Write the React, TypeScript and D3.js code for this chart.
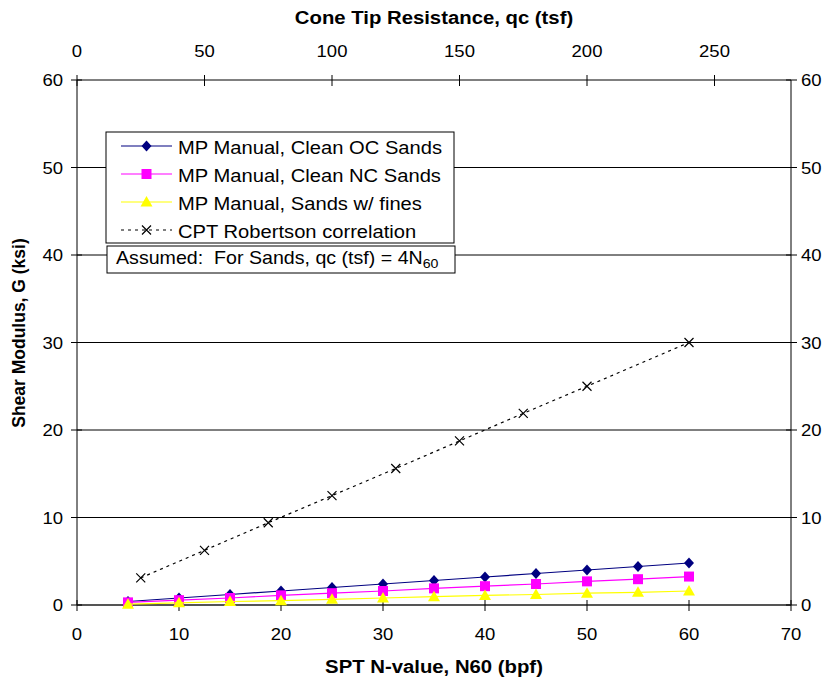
import React from "react";
import * as d3 from "d3";

const nValues = [5, 10, 15, 20, 25, 30, 35, 40, 45, 50, 55, 60];
const ocSands = [0.4, 0.8, 1.2, 1.6, 2.0, 2.4, 2.8, 3.2, 3.6, 4.0, 4.4, 4.8];
const ncSands = [0.3, 0.55, 0.8, 1.1, 1.35, 1.6, 1.9, 2.15, 2.4, 2.7, 2.95, 3.25];
const fineSands = [0.1, 0.25, 0.4, 0.5, 0.65, 0.8, 0.95, 1.1, 1.2, 1.35, 1.45, 1.6];
const cptN = [6.25, 12.5, 18.75, 25, 31.25, 37.5, 43.75, 50, 60];
const cptG = [3.1, 6.25, 9.4, 12.5, 15.6, 18.75, 21.9, 25, 30];
const xTicks = [0, 10, 20, 30, 40, 50, 60, 70];
const topTicks = [0, 50, 100, 150, 200, 250];
const yTicks = [0, 10, 20, 30, 40, 50, 60];
const legendLabels = [
  "MP Manual, Clean OC Sands",
  "MP Manual, Clean NC Sands",
  "MP Manual, Sands w/ fines",
  "CPT Robertson correlation",
];

const L = 77, R = 791, T = 80, B = 605;
const FONT = "'Liberation Sans', Arial, sans-serif";
const SX = 1.09;

function Txt({ x, y, size, anchor, bold, children, sx = SX }: any) {
  return (
    <text
      transform={`translate(${x},${y}) scale(${sx},1)`}
      fontSize={size}
      textAnchor={anchor || "start"}
      fontWeight={bold ? "bold" : "normal"}
      fill="#000"
    >
      {children}
    </text>
  );
}

function Marker({ type, x, y }: { type: string; x: number; y: number }) {
  if (type === "diamond")
    return <path d={`M${x},${y - 5.5}L${x + 5},${y}L${x},${y + 5.5}L${x - 5},${y}Z`} fill="#000080" />;
  if (type === "square")
    return <rect x={x - 5} y={y - 5} width={10} height={10} fill="#FF00FF" />;
  if (type === "triangle")
    return <path d={`M${x},${y - 6}L${x + 6},${y + 4.5}L${x - 6},${y + 4.5}Z`} fill="#FFFF00" />;
  return (
    <path d={`M${x - 4.5},${y - 4.5}L${x + 4.5},${y + 4.5}M${x - 4.5},${y + 4.5}L${x + 4.5},${y - 4.5}`} stroke="#000" strokeWidth={1.2} />
  );
}

export default function App() {
  const x = d3.scaleLinear().domain([0, 70]).range([L, R]);
  const xTop = d3.scaleLinear().domain([0, 280]).range([L, R]);
  const y = d3.scaleLinear().domain([0, 60]).range([B, T]);
  const line = d3.line<[number, number]>().x((d) => x(d[0])).y((d) => y(d[1]));

  const series = [
    { vals: nValues.map((n, i) => [n, ocSands[i]] as [number, number]), color: "#000080", marker: "diamond", dash: undefined as string | undefined, w: 1.2 },
    { vals: nValues.map((n, i) => [n, ncSands[i]] as [number, number]), color: "#FF00FF", marker: "square", dash: undefined, w: 1.2 },
    { vals: nValues.map((n, i) => [n, fineSands[i]] as [number, number]), color: "#FFFF00", marker: "triangle", dash: undefined, w: 1.2 },
    { vals: cptN.map((n, i) => [n, cptG[i]] as [number, number]), color: "#000", marker: "x", dash: "3,4", w: 1.2 },
  ];

  const legY = [146, 174, 202, 230];

  return (
    <svg width={830} height={681} style={{ position: "absolute", left: 0, top: 0 }} fontFamily={FONT}>
      <rect width={830} height={681} fill="#fff" />
      {yTicks.filter((t) => t > 0 && t < 60).map((t) => (
        <line key={t} x1={L} x2={R} y1={y(t)} y2={y(t)} stroke="#000" strokeWidth={1} />
      ))}
      <line x1={L} x2={R} y1={T} y2={T} stroke="#000" strokeWidth={1} />
      <line x1={L} x2={L} y1={T} y2={B} stroke="#000" strokeWidth={1} />
      <line x1={R} x2={R} y1={T} y2={B} stroke="#000" strokeWidth={1} />
      <line x1={L} x2={R} y1={B} y2={B} stroke="#555" strokeWidth={2} />
      {xTicks.map((t) => (
        <g key={t}>
          <line x1={x(t)} x2={x(t)} y1={B - 5} y2={B + 6} stroke="#000" />
          <Txt x={x(t)} y={640} size={17} anchor="middle">{t}</Txt>
        </g>
      ))}
      {topTicks.map((t) => (
        <g key={t}>
          <line x1={xTop(t)} x2={xTop(t)} y1={T - 5} y2={T + 6} stroke="#000" />
          <Txt x={xTop(t)} y={57} size={17} anchor="middle">{t}</Txt>
        </g>
      ))}
      {yTicks.map((t) => (
        <g key={t}>
          <line x1={L - 6} x2={L + 5} y1={y(t)} y2={y(t)} stroke="#000" />
          <line x1={R - 5} x2={R + 6} y1={y(t)} y2={y(t)} stroke="#000" />
          <Txt x={63} y={y(t) + 6} size={17} anchor="end">{t}</Txt>
          <Txt x={801} y={y(t) + 6} size={17} anchor="start">{t}</Txt>
        </g>
      ))}
      <Txt x={434} y={24} size={19} anchor="middle" bold sx={1.07}>Cone Tip Resistance, qc (tsf)</Txt>
      <Txt x={434} y={673} size={19} anchor="middle" bold sx={1.07}>SPT N-value, N60 (bpf)</Txt>
      <text transform={`translate(25,333) rotate(-90) scale(1,1.08)`} fontSize={17.5} fontWeight="bold" textAnchor="middle">Shear Modulus, G (ksi)</text>
      {series.map((s, i) => (
        <g key={i}>
          <path d={line(s.vals) || ""} fill="none" stroke={s.color} strokeWidth={s.w} strokeDasharray={s.dash} />
          {s.vals.map((v, j) => (
            <Marker key={j} type={s.marker} x={x(v[0])} y={y(v[1])} />
          ))}
        </g>
      ))}
      <rect x={106} y={132} width={348} height={111} fill="#fff" stroke="#000" strokeWidth={1} />
      {series.map((s, i) => (
        <g key={i}>
          <line x1={121} x2={172} y1={legY[i]} y2={legY[i]} stroke={s.color} strokeWidth={s.w} strokeDasharray={s.dash} />
          <Marker type={s.marker} x={146.5} y={legY[i]} />
          <Txt x={178} y={legY[i] + 7.5} size={18.5}>{legendLabels[i]}</Txt>
        </g>
      ))}
      <rect x={107} y={246} width={348} height={27} fill="#fff" stroke="#000" strokeWidth={1} />
      <Txt x={116} y={264} size={18}>
        {"Assumed:\u00A0 For Sands, qc (tsf) = 4N"}<tspan fontSize={13} dy={4}>60</tspan>
      </Txt>
    </svg>
  );
}
